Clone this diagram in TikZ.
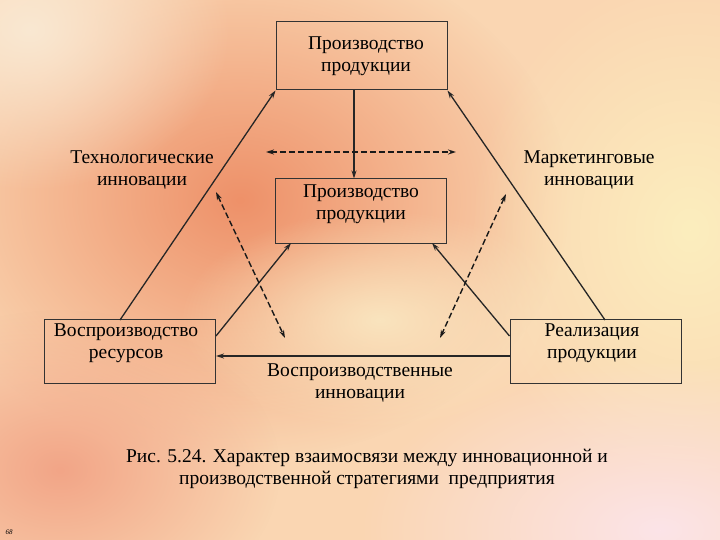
\documentclass[tikz,border=0pt]{standalone}
\usepackage{fontspec}
\setmainfont{Liberation Serif}
\usetikzlibrary{fadings,arrows.meta}
\definecolor{bgbase}{RGB}{250,214,178}
\definecolor{bgorange}{RGB}{238,145,105}
\definecolor{bgyellow}{RGB}{252,238,190}
\definecolor{bgpale}{RGB}{250,232,210}
\definecolor{bgpink}{RGB}{252,228,232}
\definecolor{bgsalmon}{RGB}{242,165,135}
\definecolor{bglight}{RGB}{250,228,190}
\tikzfading[name=soft,inner color=transparent!0,outer color=transparent!100]
\begin{document}
\begin{tikzpicture}[x=1pt,y=-1pt,
  box/.style={draw=black!80,line width=1pt,minimum width=171pt,minimum height=64pt,inner sep=0pt},
  lbl/.style={font=\fontsize{19.5}{22}\selectfont,align=center},
  conn/.style={line width=1.3pt,black!85,-{Stealth[length=8pt,width=5pt]}},
  dconn/.style={line width=1.4pt,black!90,dash pattern=on 6pt off 3pt,{Stealth[length=8pt,width=5pt]}-{Stealth[length=8pt,width=5pt]}},
  blob/.style={path fading=soft}]
\useasboundingbox (0,0) rectangle (720,540);
\fill[bgbase] (0,0) rectangle (720,540);
\fill[bgorange,blob] (240,200) ellipse (330 and 260);
\fill[bgyellow,blob] (690,230) ellipse (220 and 260);
\fill[bgpale,blob] (30,30) ellipse (200 and 160);
\fill[bgpink,blob] (660,530) ellipse (300 and 170);
\fill[bgsalmon,blob] (60,470) ellipse (220 and 160);
\fill[bglight,blob] (380,320) ellipse (200 and 110);

\node[box,minimum height=68pt] (top) at (361.5,56) {};
\node[lbl] (toplbl) at (366,56) {Производство\\продукции};
\node[box] (mid) at (361,211) {};
\node[lbl] (midlbl) at (361,204) {Производство\\продукции};
\node[box] (left) at (130,351.5) {};
\node[lbl] (leftlbl) at (126,343) {Воспроизводство\\ресурсов};
\node[box] (right) at (595.5,351.5) {};
\node[lbl] (rightlbl) at (592,343) {Реализация\\продукции};
\node[lbl] (tech) at (142,170) {Технологические\\инновации};
\node[lbl] (mark) at (589,170) {Маркетинговые\\инновации};
\node[lbl] (repro) at (360,383) {Воспроизводственные\\инновации};
\node[lbl] (cap) at (367,469) {Рис. 5.24. Характер взаимосвязи между инновационной и\\производственной стратегиями\ \ предприятия};
\node[font=\fontsize{7}{8}\selectfont\itshape] (pg) at (9,532) {68};

\coordinate (lt) at (120,320);
\coordinate (rt) at (605,320);
\draw[conn] (lt) -- (top.south west);
\draw[conn] (rt) -- (top.south east);
\draw[conn] (top.south -| 354,0) -- (mid.north -| 354,0);
\draw[conn] (left.east |- 0,336) -- (291,243);
\draw[conn] (right.west |- 0,336) -- (432,243);
\draw[conn] (right.west |- 0,356) -- (left.east |- 0,356);
\coordinate (d1) at (266,152); \coordinate (d2) at (456,152);
\coordinate (d3) at (216,192); \coordinate (d4) at (285,338);
\coordinate (d5) at (506,194); \coordinate (d6) at (440,338);
\draw[dconn] (d1) -- (d2);
\draw[dconn] (d3) -- (d4);
\draw[dconn] (d5) -- (d6);
\end{tikzpicture}
\end{document}
